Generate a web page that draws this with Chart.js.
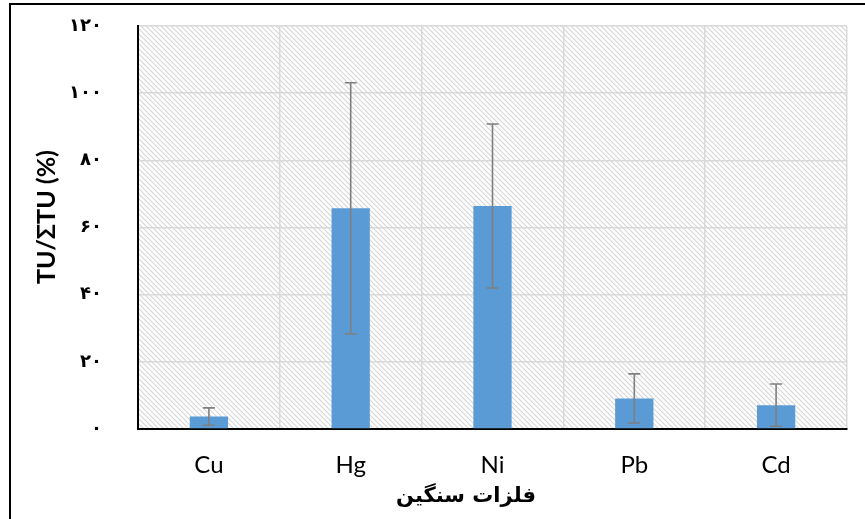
<!DOCTYPE html>
<html>
<head>
<meta charset="utf-8">
<script src="https://cdn.jsdelivr.net/npm/chart.js@4/dist/chart.umd.min.js"></script>
<style>
  html, body { margin: 0; padding: 0; background: #fff; overflow: hidden; }
  #wrap { position: relative; width: 865px; height: 519px; }
  #frame { position: absolute; left: 9px; top: 3px; width: 900px; height: 600px; border: 2px solid #000; box-sizing: border-box; pointer-events: none; }
  canvas { position: absolute; left: 0; top: 0; }
</style>
</head>
<body>
<div id="wrap">
  <canvas id="chart" width="865" height="519"></canvas>
  <div id="frame"></div>
</div>
<script>
// Heavy metals and their share of toxic units
const categories = ['Cu', 'Hg', 'Ni', 'Pb', 'Cd'];
const meanValues = [3.7, 65.7, 66.4, 9.1, 7.1];
const errorValues = [2.6, 37.4, 24.4, 7.3, 6.3];
const yTickLabels = ['۰', '۲۰', '۴۰', '۶۰', '۸۰', '۱۰۰', '۱۲۰'];
const xTitle = 'فلزات سنگین';
const yTitle = 'TU/ΣTU (%)';

// Diagonal hatch used to fill the plot area
function makeHatch() {
  const size = 5;
  const c = document.createElement('canvas');
  c.width = size; c.height = size;
  const g = c.getContext('2d');
  g.strokeStyle = '#d6d6d6';
  g.lineWidth = 1.1;
  g.beginPath();
  g.moveTo(-1, -1); g.lineTo(size + 1, size + 1);
  g.moveTo(-1, size - 1); g.lineTo(1, size + 1);
  g.moveTo(size - 1, -1); g.lineTo(size + 1, 1);
  g.stroke();
  return c;
}

const hatchBackground = {
  id: 'hatchBackground',
  beforeDraw(chart) {
    const { ctx, chartArea: a } = chart;
    ctx.save();
    ctx.fillStyle = ctx.createPattern(makeHatch(), 'repeat');
    ctx.fillRect(a.left, a.top, a.right - a.left, a.bottom - a.top);
    ctx.restore();
  }
};

const errorBars = {
  id: 'errorBars',
  afterDatasetsDraw(chart) {
    const { ctx } = chart;
    const y = chart.scales.y;
    const meta = chart.getDatasetMeta(0);
    ctx.save();
    ctx.strokeStyle = '#7f7f7f';
    ctx.lineWidth = 1.6;
    meta.data.forEach((bar, i) => {
      const hi = y.getPixelForValue(meanValues[i] + errorValues[i]);
      const lo = y.getPixelForValue(Math.max(0, meanValues[i] - errorValues[i]));
      const x = bar.x;
      const cap = 6;
      ctx.beginPath();
      ctx.moveTo(x, hi); ctx.lineTo(x, lo);
      ctx.moveTo(x - cap, hi); ctx.lineTo(x + cap, hi);
      ctx.moveTo(x - cap, lo); ctx.lineTo(x + cap, lo);
      ctx.stroke();
    });
    ctx.restore();
  }
};

const axisTitles = {
  id: 'axisTitles',
  afterDraw(chart) {
    const { ctx } = chart;
    ctx.save();
    ctx.fillStyle = '#000';
    ctx.textAlign = 'center';
    ctx.textBaseline = 'middle';
    ctx.direction = 'rtl';
    ctx.font = 'bold 21px "DejaVu Sans"';
    ctx.fillText(xTitle, 466, 497);
    ctx.direction = 'ltr';
    ctx.translate(47, 217);
    ctx.rotate(-Math.PI / 2);
    ctx.font = 'bold 25px Lato, "Open Sans", sans-serif';
    ctx.fillText(yTitle, 0, 0);
    ctx.restore();
  }
};

new Chart(document.getElementById('chart'), {
  type: 'bar',
  data: {
    labels: categories,
    datasets: [{
      data: meanValues,
      backgroundColor: '#5b9bd5',
      borderWidth: 0,
      categoryPercentage: 1,
      barPercentage: 0.27
    }]
  },
  options: {
    responsive: false,
    animation: false,
    layout: { padding: { left: 10, top: 26, right: 18, bottom: 0 } },
    plugins: { legend: { display: false }, tooltip: { enabled: false } },
    scales: {
      x: {
        afterFit(scale) { scale.height = 90; },
        grid: { color: '#d9d9d9', lineWidth: 1.5, drawTicks: true, tickLength: 22, tickColor: 'rgba(0,0,0,0)' },
        border: { color: '#000', width: 2 },
        ticks: { color: '#000', padding: 0, font: { family: 'Lato, "Open Sans", sans-serif', size: 24 } }
      },
      y: {
        min: 0, max: 120,
        afterFit(scale) { scale.width = 128; },
        grid: { color: '#d9d9d9', lineWidth: 1.5, drawTicks: true, tickLength: 36, tickColor: 'rgba(0,0,0,0)' },
        border: { color: '#000', width: 2 },
        ticks: {
          stepSize: 20,
          color: '#000',
          padding: 0,
          font: { family: '"DejaVu Sans"', size: 18, weight: 'bold' },
          callback: (value, index) => yTickLabels[index]
        }
      }
    }
  },
  plugins: [hatchBackground, errorBars, axisTitles]
});
</script>
</body>
</html>
